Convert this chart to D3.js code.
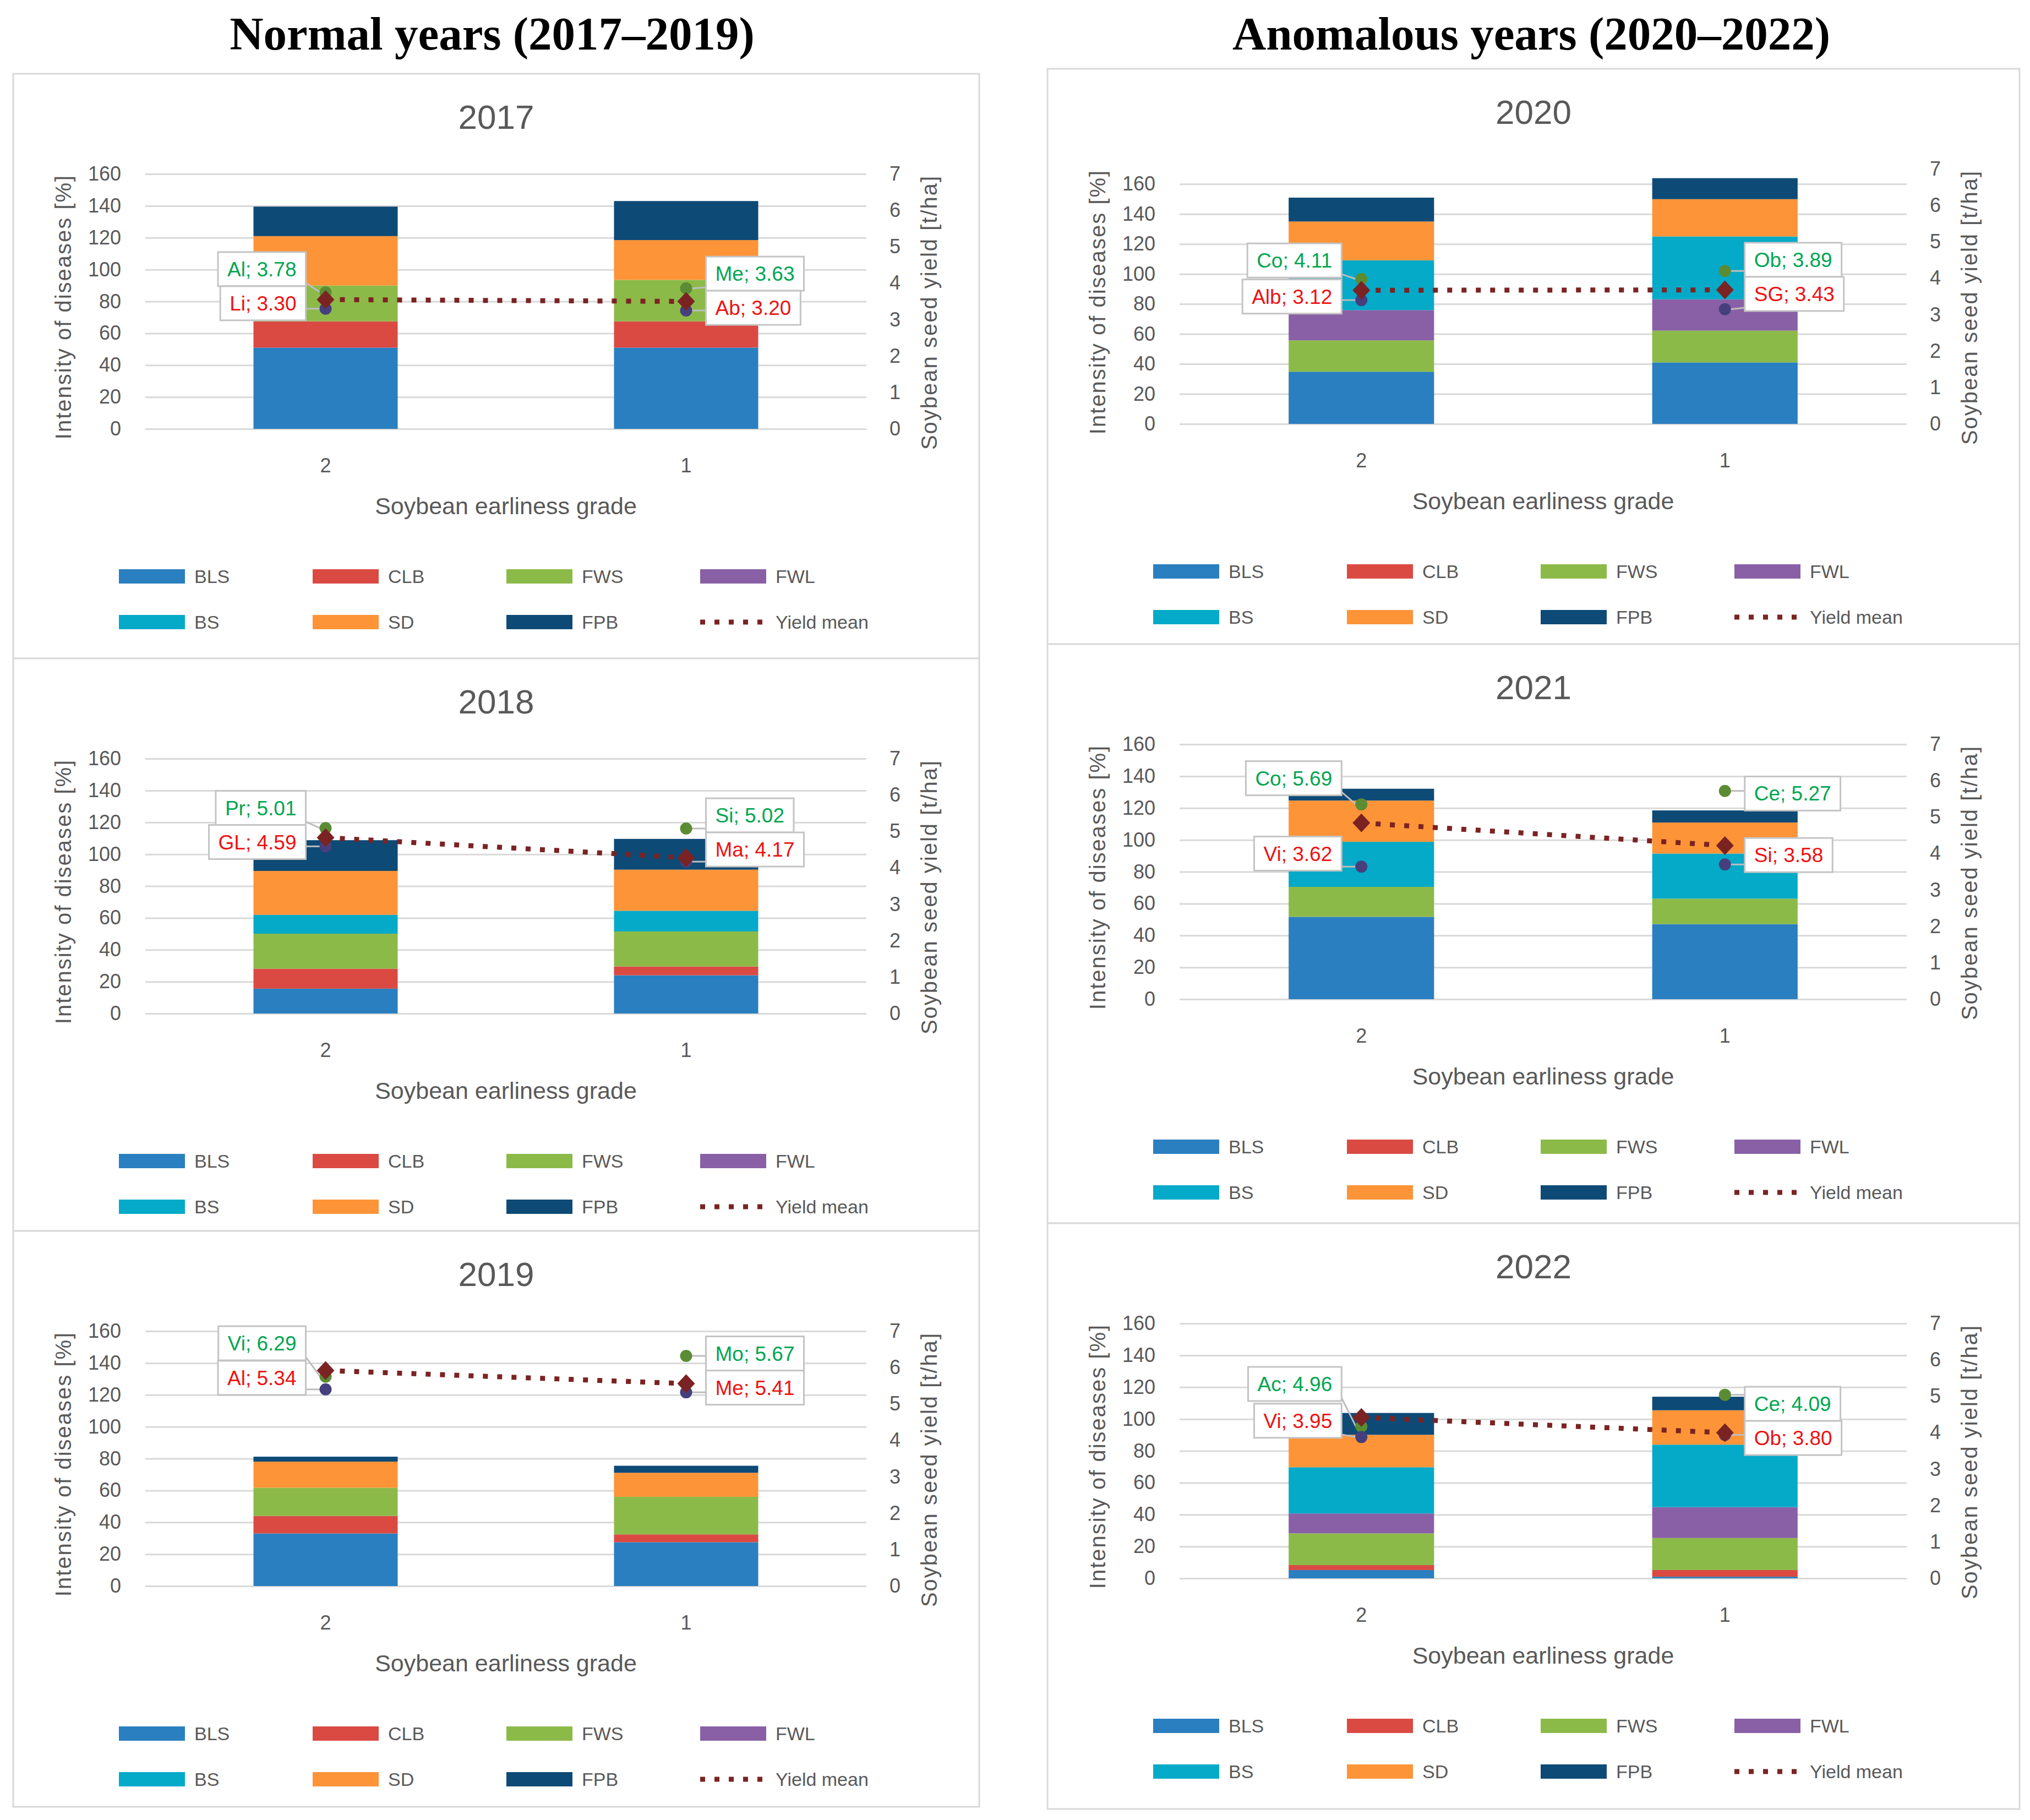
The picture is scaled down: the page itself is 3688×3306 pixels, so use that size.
<!DOCTYPE html>
<html>
<head>
<meta charset="utf-8">
<script src="https://cdn.jsdelivr.net/npm/d3@7"></script>
<style>
  body { margin: 0; background: #fff; }
  text { font-family: "Liberation Sans", Arial, sans-serif; }
</style>
</head>
<body>
<svg id="chart" width="3688" height="3306"></svg>
<script>
// ---- data ----
const groupTitles = ['Normal years (2017\u20132019)', 'Anomalous years (2020\u20132022)'];
const years = ['2017', '2018', '2019', '2020', '2021', '2022'];
const grades = ['2', '1'];
const diseases = ['BLS', 'CLB', 'FWS', 'FWL', 'BS', 'SD', 'FPB'];

// intensity of diseases [%], one pair [grade 2, grade 1] per year
const BLS = [[51, 51], [15.6, 24], [33, 27.5], [34.8, 41], [51.7, 47.1], [5.2, 1]];
const CLB = [[16.5, 16.5], [12.5, 5.5], [11, 4.9], [0, 0], [0, 0], [3.1, 4.2]];
const FWS = [[22.5, 26], [22, 22], [17.7, 23.6], [20.9, 21.2], [18.8, 16], [19.9, 20.1]];
const FWL = [[0, 0], [0, 0], [0, 0], [20.2, 20.9], [0, 0], [12.5, 19.4]];
const BS = [[0, 0], [11.8, 13], [0, 0], [33.2, 41.9], [28.3, 28.3], [29, 39.2]];
const SD = [[31, 25], [27.6, 25.8], [16.4, 15.1], [25.9, 24.9], [25.9, 19.5], [20.4, 21.6]];
const FPB = [[18.5, 24.5], [19.3, 19.3], [3.1, 4.4], [15.9, 14], [7.4, 7.6], [13.7, 8.5]];

// soybean seed yield [t/ha]
const yieldMean = [[3.55, 3.50], [4.83, 4.28], [5.92, 5.56], [3.67, 3.68], [4.84, 4.22], [4.42, 4.00]];
const yieldMaxPoint = [[3.75, 3.86], [5.09, 5.08], [5.75, 6.32], [3.98, 4.20], [5.35, 5.72], [4.17, 5.04]];
const yieldMinPoint = [[3.30, 3.25], [4.59, 4.17], [5.40, 5.32], [3.40, 3.15], [3.64, 3.70], [3.88, 3.94]];

// data label texts
const maxVariety = [['Al', 'Me'], ['Pr', 'Si'], ['Vi', 'Mo'], ['Co', 'Ob'], ['Co', 'Ce'], ['Ac', 'Ce']];
const maxYield = [[3.78, 3.63], [5.01, 5.02], [6.29, 5.67], [4.11, 3.89], [5.69, 5.27], [4.96, 4.09]];
const minVariety = [['Li', 'Ab'], ['GL', 'Ma'], ['Al', 'Me'], ['Alb', 'SG'], ['Vi', 'Si'], ['Vi', 'Ob']];
const minYield = [[3.30, 3.20], [4.59, 4.17], [5.34, 5.41], [3.12, 3.43], [3.62, 3.58], [3.95, 3.80]];

const intensityMax = [160, 160, 160, 170, 160, 160];
const leftTicks = [0, 20, 40, 60, 80, 100, 120, 140, 160];
const rightTicks = [0, 1, 2, 3, 4, 5, 6, 7];

// ---- style ----
const diseaseData = { BLS, CLB, FWS, FWL, BS, SD, FPB };
const color = d3.scaleOrdinal()
  .domain(diseases)
  .range(['#2a7fc0', '#da4a43', '#8cba48', '#8960a6', '#05aac8', '#fd9438', '#0e4a76']);
const meanColor = '#7b2323';
const maxColor = '#5b8c33';
const minColor = '#45407d';
const labelGreen = '#00a651';
const labelRed = '#ee1111';
const textGrey = '#595959';
const gridGrey = '#d9d9d9';

const panels = [
  { x: 24, y: 134, w: 1755, h: 1062 },
  { x: 24, y: 1196, w: 1755, h: 1040 },
  { x: 24, y: 2236, w: 1755, h: 1046 },
  { x: 1903, y: 125, w: 1766, h: 1045 },
  { x: 1903, y: 1170, w: 1766, h: 1052 },
  { x: 1903, y: 2222, w: 1766, h: 1064 }
];

const svg = d3.select('#chart');
svg.append('rect').attr('width', 3688).attr('height', 3306).attr('fill', '#fff');

svg.selectAll('.group-title').data(groupTitles).enter().append('text')
  .attr('class', 'group-title')
  .attr('x', (d, i) => i === 0 ? 894 : 2782)
  .attr('y', 90)
  .attr('text-anchor', 'middle')
  .style('font-family', '"Liberation Serif", "Times New Roman", serif')
  .style('font-weight', 'bold')
  .style('font-size', '85px')
  .attr('fill', '#000')
  .text(d => d);

years.forEach((year, i) => drawPanel(i));

function drawPanel(i) {
  const p = panels[i];
  const g = svg.append('g').attr('transform', `translate(${p.x},${p.y})`);

  g.append('rect')
    .attr('width', p.w).attr('height', p.h)
    .attr('fill', '#fff').attr('stroke', gridGrey).attr('stroke-width', 3);

  g.append('text')
    .attr('x', p.w / 2).attr('y', 100)
    .attr('text-anchor', 'middle')
    .style('font-size', '62px')
    .attr('fill', textGrey)
    .text(years[i]);

  const left = 240, right = p.w - 205, top = 182, bottom = 645;

  const x = d3.scaleBand().domain(grades).range([left, right])
    .paddingInner(0.6).paddingOuter(0.3);
  const y = d3.scaleLinear().domain([0, intensityMax[i]]).range([bottom, top]);
  const y2 = d3.scaleLinear().domain([0, 7]).range([bottom, top]);
  const cx = gr => x(gr) + x.bandwidth() / 2;

  // left axis + gridlines
  const ax = g.append('g')
    .attr('transform', `translate(${left},0)`)
    .call(d3.axisLeft(y).tickValues(leftTicks).tickSizeInner(-(right - left)).tickSizeOuter(0).tickPadding(44));
  ax.select('.domain').remove();
  ax.selectAll('line').attr('stroke', gridGrey).attr('stroke-width', 3);
  ax.selectAll('text').style('font-size', '36px').attr('fill', textGrey);

  const ax2 = g.append('g')
    .attr('transform', `translate(${right},0)`)
    .call(d3.axisRight(y2).tickValues(rightTicks).tickFormat(d3.format('d')).tickSize(0).tickPadding(42));
  ax2.select('.domain').remove();
  ax2.selectAll('text').style('font-size', '36px').attr('fill', textGrey);

  const axx = g.append('g')
    .attr('transform', `translate(0,${bottom})`)
    .call(d3.axisBottom(x).tickSize(0).tickPadding(53));
  axx.select('.domain').remove();
  axx.selectAll('text').style('font-size', '36px').attr('fill', textGrey);

  // axis titles
  g.append('text')
    .attr('transform', `translate(91,${(top + bottom) / 2 + 10}) rotate(-90)`)
    .attr('text-anchor', 'middle').attr('dominant-baseline', 'central')
    .style('font-size', '40px').style('letter-spacing', '2px')
    .attr('fill', textGrey)
    .text('Intensity of diseases [%]');
  g.append('text')
    .attr('transform', `translate(${p.w - 91},${(top + bottom) / 2 + 20}) rotate(-90)`)
    .attr('text-anchor', 'middle').attr('dominant-baseline', 'central')
    .style('font-size', '40px').style('letter-spacing', '2px')
    .attr('fill', textGrey)
    .text('Soybean seed yield [t/ha]');
  g.append('text')
    .attr('x', (left + right) / 2).attr('y', bottom + 155)
    .attr('text-anchor', 'middle')
    .style('font-size', '43px')
    .attr('fill', textGrey)
    .text('Soybean earliness grade');

  // stacked bars
  const table = grades.map((gr, j) => {
    const row = { grade: gr };
    diseases.forEach(k => { row[k] = diseaseData[k][i][j]; });
    return row;
  });
  const series = d3.stack().keys(diseases)(table);

  g.append('g').selectAll('g').data(series).enter().append('g')
    .attr('fill', d => color(d.key))
    .selectAll('rect').data(d => d).enter().append('rect')
      .attr('x', d => x(d.data.grade))
      .attr('width', x.bandwidth())
      .attr('y', d => y(d[1]))
      .attr('height', d => y(d[0]) - y(d[1]));

  // yield mean line
  const line = d3.line().x((d, j) => cx(grades[j])).y(d => y2(d));
  g.append('path')
    .datum(yieldMean[i])
    .attr('d', line)
    .attr('fill', 'none')
    .attr('stroke', meanColor)
    .attr('stroke-width', 9)
    .attr('stroke-dasharray', '9 17');

  const boxH = 62;
  const labelLayer = g.append('g');
  const leaderLayer = g.insert('g', () => labelLayer.node());

  // markers
  const markers = g.insert('g', () => labelLayer.node());
  grades.forEach((gr, j) => {
    markers.append('circle')
      .attr('cx', cx(gr)).attr('cy', y2(yieldMaxPoint[i][j])).attr('r', 11)
      .attr('fill', maxColor);
    markers.append('circle')
      .attr('cx', cx(gr)).attr('cy', y2(yieldMinPoint[i][j])).attr('r', 11)
      .attr('fill', minColor);
  });
  markers.selectAll('path.mean').data(yieldMean[i]).enter().append('path')
    .attr('class', 'mean')
    .attr('transform', (d, j) => `translate(${cx(grades[j])},${y2(d)})`)
    .attr('d', 'M0,-17L16,0L0,17L-16,0Z')
    .attr('fill', meanColor);

  // data labels: boxes left of grade 2, right of grade 1
  grades.forEach((gr, j) => {
    const side = j === 0 ? -1 : 1;
    const mx = cx(gr);
    let gC = y2(maxYield[i][j]) - 25;
    let rC = y2(minYield[i][j]) - 25;
    if (rC - gC < boxH) {
      const mid = (gC + rC) / 2;
      gC = mid - boxH / 2;
      rC = mid + boxH / 2;
    }
    const items = [
      { text: `${maxVariety[i][j]}; ${maxYield[i][j].toFixed(2)}`, c: gC, fill: labelGreen, py: y2(yieldMaxPoint[i][j]) },
      { text: `${minVariety[i][j]}; ${minYield[i][j].toFixed(2)}`, c: rC, fill: labelRed, py: y2(yieldMinPoint[i][j]) }
    ];
    items.forEach(it => {
      const lg = labelLayer.append('g');
      const rect = lg.append('rect');
      const t = lg.append('text')
        .style('font-size', '37px')
        .attr('fill', it.fill)
        .attr('text-anchor', 'middle')
        .text(it.text);
      const bw = t.node().getComputedTextLength() + 34;
      const bx = side < 0 ? mx - 36 - bw : mx + 36;
      rect.attr('x', bx).attr('y', it.c - boxH / 2)
        .attr('width', bw).attr('height', boxH)
        .attr('fill', '#fff').attr('stroke', '#c4c4c4').attr('stroke-width', 3);
      t.attr('x', bx + bw / 2).attr('y', it.c + 13);

      const ex = side < 0 ? bx + bw : bx;
      const ey = Math.max(it.c - boxH / 2 + 6, Math.min(it.c + boxH / 2 - 6, it.py));
      leaderLayer.append('line')
        .attr('x1', ex).attr('y1', ey)
        .attr('x2', mx + side * 10).attr('y2', it.py)
        .attr('stroke', '#bdbdbd').attr('stroke-width', 3);
    });
  });

  // legend
  const legendItems = diseases.concat(['Yield mean']);
  const lg = g.append('g');
  legendItems.forEach((name, k) => {
    const lx = 192 + (k % 4) * 352;
    const ly = k < 4 ? 913 : 996;
    if (name === 'Yield mean') {
      lg.append('line')
        .attr('x1', lx).attr('x2', lx + 113)
        .attr('y1', ly).attr('y2', ly)
        .attr('stroke', meanColor).attr('stroke-width', 9)
        .attr('stroke-dasharray', '9 17');
    } else {
      lg.append('rect')
        .attr('x', lx).attr('y', ly - 13)
        .attr('width', 120).attr('height', 26)
        .attr('fill', color(name));
    }
    lg.append('text')
      .attr('x', lx + 137).attr('y', ly + 12)
      .style('font-size', '34px')
      .attr('fill', textGrey)
      .text(name);
  });
}
</script>
</body>
</html>
